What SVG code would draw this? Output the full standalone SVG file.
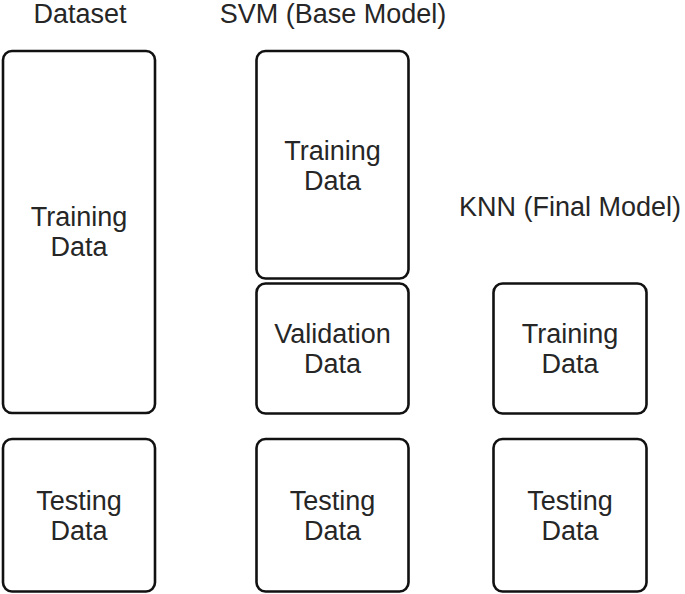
<svg xmlns="http://www.w3.org/2000/svg" width="685" height="594" viewBox="0 0 685 594">
<style>
.box{fill:#fff;stroke:#111;stroke-width:2.6}
text{font-family:"Liberation Sans",Arial,sans-serif;font-size:27px;fill:#262626;text-anchor:middle}
</style>
<rect width="685" height="594" fill="#fff"/>
<g id="title-dataset"><text x="80" y="22.5">Dataset</text></g>
<g id="title-svm"><text x="333" y="22.5">SVM (Base Model)</text></g>
<g id="title-knn"><text x="570" y="216">KNN (Final Model)</text></g>
<g id="dataset-training"><rect class="box" x="3" y="51" width="152" height="362" rx="9"/><text x="79" y="226">Training</text><text x="79" y="256">Data</text></g>
<g id="dataset-testing"><rect class="box" x="3" y="439" width="152" height="152.5" rx="9"/><text x="79" y="509.5">Testing</text><text x="79" y="539.5">Data</text></g>
<g id="svm-training"><rect class="box" x="256.5" y="51" width="152" height="227.5" rx="9"/><text x="332.5" y="159.5">Training</text><text x="332.5" y="189.5">Data</text></g>
<g id="svm-validation"><rect class="box" x="256.5" y="283.5" width="152" height="130" rx="9"/><text x="332.5" y="343">Validation</text><text x="332.5" y="373">Data</text></g>
<g id="svm-testing"><rect class="box" x="256.5" y="439" width="152" height="152.5" rx="9"/><text x="332.5" y="509.5">Testing</text><text x="332.5" y="539.5">Data</text></g>
<g id="knn-training"><rect class="box" x="493.5" y="283.5" width="153" height="130" rx="9"/><text x="570" y="343">Training</text><text x="570" y="373">Data</text></g>
<g id="knn-testing"><rect class="box" x="493.5" y="439" width="153" height="152.5" rx="9"/><text x="570" y="509.5">Testing</text><text x="570" y="539.5">Data</text></g>
<g id="connectors"/>
</svg>
